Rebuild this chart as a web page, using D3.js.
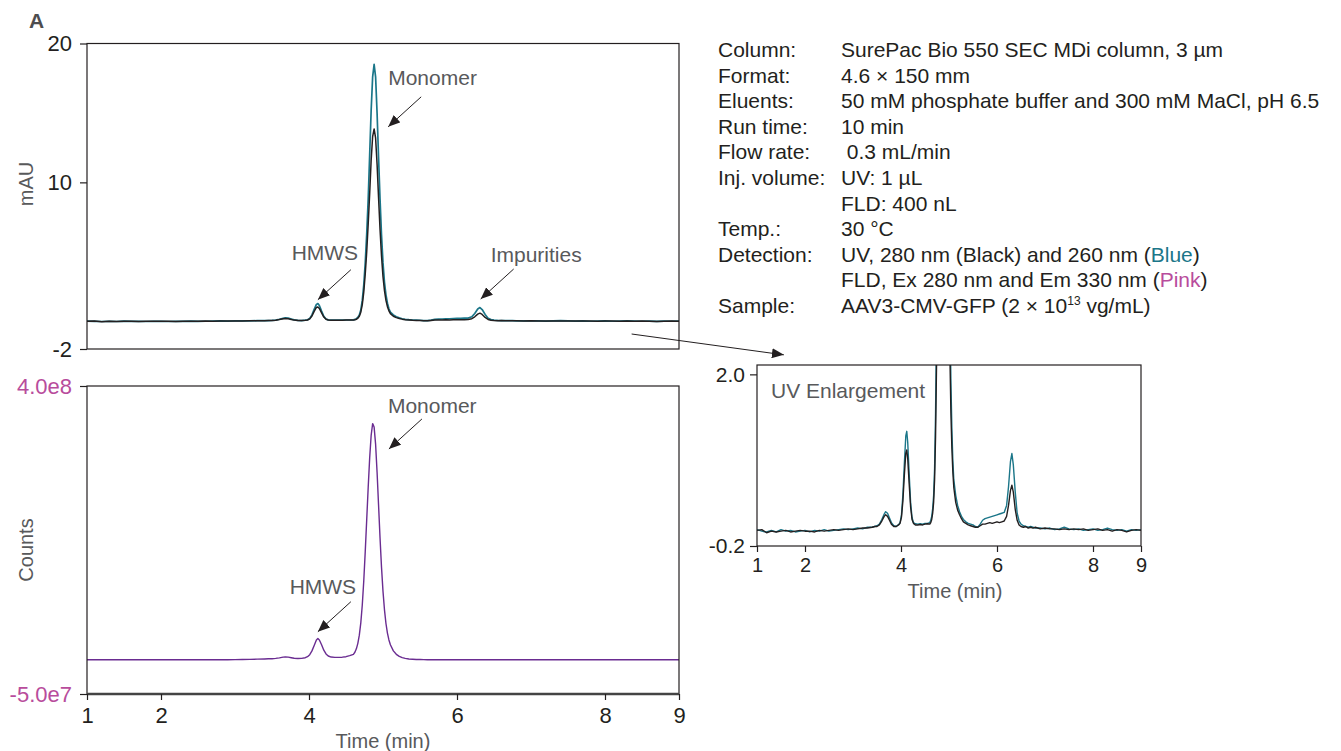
<!DOCTYPE html>
<html>
<head>
<meta charset="utf-8">
<script src="https://cdn.jsdelivr.net/npm/d3@7"></script>
<style>
  body { margin: 0; background: #fff; }
  svg { font-family: "Liberation Sans", Arial, Helvetica, sans-serif; }
</style>
</head>
<body>
<svg id="chart" width="1341" height="751"></svg>
<script>
// retention time (min)
var timeMin = [
  1.0,1.1,1.2,1.3,1.4,1.5,1.6,1.7,1.8,1.9,2.0,2.1,2.2,2.3,2.4,2.5,2.6,2.7,2.8,2.9,3.0,3.1,3.2,3.3,3.4,
  3.45,3.5,3.55,3.6,3.65,3.68,3.72,3.76,3.8,3.85,3.9,
  3.95,3.98,4.01,4.04,4.07,4.1,4.12,4.14,4.17,4.2,4.23,4.26,4.3,4.35,4.4,4.45,4.5,4.55,
  4.6,4.62,4.64,4.66,4.68,4.7,4.72,4.74,4.76,4.78,4.8,4.82,4.84,4.86,4.88,4.9,4.92,4.94,4.96,4.98,5.0,5.02,5.04,5.06,5.08,5.1,
  5.14,5.18,5.22,5.26,5.3,
  5.35,5.4,5.45,5.5,5.55,5.6,5.65,5.7,5.75,5.8,5.85,5.9,5.95,6.0,6.05,6.1,6.15,
  6.2,6.24,6.28,6.31,6.34,6.38,6.42,6.46,6.5,6.55,6.6,6.65,6.7,6.75,6.8,
  6.9,7.0,7.1,7.2,7.3,7.4,7.5,7.6,7.7,7.8,7.9,8.0,8.1,8.2,8.3,8.4,8.5,8.6,8.7,8.8,8.9,9.0
];

// UV 260 nm (blue), mAU
var uv260 = [
  0.01,-0.01,-0.02,0.0,-0.02,0.01,-0.01,0.0,-0.02,-0.01,0.0,-0.02,0.0,-0.01,0.01,-0.01,0.0,0.01,0.02,0.01,0.02,0.03,0.02,0.04,0.04,
  0.05,0.06,0.08,0.14,0.21,0.24,0.22,0.16,0.1,0.06,0.05,
  0.075,0.1,0.2,0.46,0.86,1.21,1.27,1.13,0.73,0.36,0.165,0.1,0.085,0.08,0.085,0.08,0.09,0.09,
  0.1,0.13,0.18,0.28,0.45,0.8,1.5,2.6,4.2,6.3,8.8,12.0,15.2,17.6,18.5,17.6,15.0,11.8,8.8,6.2,4.2,2.8,1.9,1.3,0.9,0.65,
  0.45,0.32,0.24,0.18,0.14,
  0.11,0.09,0.08,0.07,0.05,0.04,0.08,0.13,0.15,0.16,0.17,0.18,0.19,0.2,0.21,0.22,0.23,
  0.32,0.56,0.88,0.985,0.84,0.49,0.22,0.12,0.08,0.06,0.05,0.04,0.05,0.04,0.03,
  0.03,0.02,0.03,0.01,0.02,0.04,0.02,0.01,0.02,0.0,0.01,0.02,0.0,0.01,0.03,0.01,0.0,0.01,-0.01,0.01,0.0,0.01
];

// UV 280 nm (black), mAU
var uv280 = [
  0.0,0.01,-0.03,-0.01,-0.02,-0.01,0.0,-0.02,-0.01,0.0,-0.01,-0.01,-0.02,0.0,-0.01,0.0,0.01,0.0,0.01,0.02,0.01,0.02,0.03,0.03,0.04,
  0.05,0.05,0.07,0.12,0.18,0.2,0.18,0.13,0.08,0.05,0.05,
  0.07,0.09,0.17,0.38,0.71,0.99,1.03,0.92,0.6,0.3,0.14,0.09,0.07,0.07,0.075,0.07,0.08,0.085,
  0.08,0.1,0.14,0.22,0.36,0.65,1.2,2.1,3.4,5.0,7.0,9.2,11.6,13.3,13.85,13.2,11.3,8.9,6.6,4.7,3.2,2.2,1.5,1.05,0.75,0.55,
  0.36,0.26,0.2,0.15,0.11,
  0.09,0.07,0.06,0.05,0.04,0.04,0.06,0.08,0.08,0.09,0.1,0.09,0.1,0.11,0.1,0.11,0.12,
  0.18,0.32,0.51,0.58,0.49,0.27,0.13,0.07,0.05,0.04,0.05,0.03,0.04,0.03,0.04,
  0.02,0.03,0.02,0.02,0.01,0.02,0.01,0.02,0.01,0.02,0.0,0.01,0.02,0.0,0.01,-0.01,0.01,0.0,-0.02,0.0,0.01,0.0
];

// FLD Ex 280 / Em 330, counts in units of 1e7
var fldCounts = [
  0,0,0,0,0,0,0,0,0,0,0,0,0,0,0,0,0,0,0,0,0.02,0.04,0.06,0.09,0.12,
  0.14,0.16,0.2,0.28,0.38,0.42,0.38,0.3,0.22,0.18,0.2,
  0.3,0.45,0.75,1.3,2.1,2.9,3.1,2.9,2.2,1.4,0.85,0.55,0.4,0.35,0.35,0.38,0.45,0.6,
  0.8,1.1,1.6,2.4,3.6,5.4,8.0,11.5,15.8,20.5,25.2,29.5,32.8,34.5,34.0,31.5,27.4,22.6,17.8,13.5,10.0,7.3,5.3,3.9,2.9,2.2,
  1.3,0.8,0.5,0.32,0.2,
  0.12,0.08,0.05,0.03,0.02,0.01,0,0,0,0,0,0,0,0,0,0,0,
  0,0,0,0,0,0,0,0,0,0,0,0,0,0,0,
  0,0,0,0,0,0,0,0,0,0,0,0,0,0,0,0,0,0,0,0,0,0
];

var timeTicks = [1, 2, 4, 6, 8, 9];
var uvTicks = [20, 10, -2];
var uvTickLabels = ["20", "10", "-2"];
var fldTicks = [40, -5];
var fldTickLabels = ["4.0e8", "-5.0e7"];
var insetTicks = [2.0, -0.2];
var insetTickLabels = ["2.0", "-0.2"];

var uvNotes = [
  {text: "Monomer", t: 5.07, v: 14.0, tx: 0, ty: -42, anchor: "start"},
  {text: "HMWS", t: 4.12, v: 1.55, tx: 7, ty: -40, anchor: "middle"},
  {text: "Impurities", t: 6.32, v: 1.6, tx: 10, ty: -37, anchor: "start"}
];
var fldNotes = [
  {text: "Monomer", t: 5.08, v: 30.8, tx: -1, ty: -36, anchor: "start"},
  {text: "HMWS", t: 4.12, v: 4.1, tx: 5, ty: -38, anchor: "middle"}
];

var infoRows = [
  ["Column:", [["SurePac Bio 550 SEC MDi column, 3 µm"]]],
  ["Format:", [["4.6 × 150 mm"]]],
  ["Eluents:", [["50 mM phosphate buffer and 300 mM MaCl, pH 6.5"]]],
  ["Run time:", [["10 min"]]],
  ["Flow rate:", [["\u00a00.3 mL/min"]]],
  ["Inj. volume:", [["UV: 1 µL"]]],
  ["", [["FLD: 400 nL"]]],
  ["Temp.:", [["30 °C"]]],
  ["Detection:", [["UV, 280 nm (Black) and 260 nm ("], ["Blue", "blue"], [")"]]],
  ["", [["FLD, Ex 280 nm and Em 330 nm ("], ["Pink", "pink"], [")"]]],
  ["Sample:", [["AAV3-CMV-GFP (2 × 10"], ["13", "sup"], [" vg/mL)", "unsup"]]]
];

var ink = "#231f20", grey = "#58595b", blue = "#1b7689", pink = "#b84c9c", purple = "#6a2c91";

var svg = d3.select("#chart");
var defs = svg.append("defs");
defs.append("marker").attr("id", "arrow")
  .attr("viewBox", "0 0 12 10").attr("refX", 12).attr("refY", 5)
  .attr("markerWidth", 12).attr("markerHeight", 10)
  .attr("markerUnits", "userSpaceOnUse").attr("orient", "auto")
  .append("path").attr("d", "M0,0L12,5L0,10Z").attr("fill", ink);

var idx = d3.range(timeMin.length);

function panel(id, x, y, series) {
  var r = {x0: x.range()[0], x1: x.range()[1], y0: y.range()[1], y1: y.range()[0]};
  defs.append("clipPath").attr("id", id).append("rect")
    .attr("x", r.x0).attr("y", r.y0).attr("width", r.x1 - r.x0).attr("height", r.y1 - r.y0);
  var g = svg.append("g").attr("clip-path", "url(#" + id + ")");
  series.forEach(function(s) {
    var line = d3.line().x(function(i) { return x(timeMin[i]); }).y(function(i) { return y(s.values[i]); });
    g.append("path").attr("d", line(idx)).attr("fill", "none")
      .attr("stroke", s.color).attr("stroke-width", s.width || 1.4).attr("stroke-linejoin", "round");
  });
  svg.append("rect").attr("x", r.x0).attr("y", r.y0).attr("width", r.x1 - r.x0).attr("height", r.y1 - r.y0)
    .attr("fill", "none").attr("stroke", ink).attr("stroke-width", 1.2);
  return r;
}

function styleAxis(g, size, color) {
  g.select(".domain").remove();
  g.selectAll(".tick line").attr("stroke", ink).attr("stroke-width", 1.2);
  g.selectAll(".tick text").attr("font-size", size).attr("fill", color || ink).attr("font-family", null);
}

function labelsFrom(labels) {
  return function(d, i) { return labels[i]; };
}

function notes(list, x, y) {
  list.forEach(function(n) {
    var px = x(n.t), py = y(n.v);
    svg.append("line").attr("x1", px + 33).attr("y1", py - 30).attr("x2", px).attr("y2", py)
      .attr("stroke", ink).attr("stroke-width", 1).attr("marker-end", "url(#arrow)");
    svg.append("text").attr("x", px + n.tx).attr("y", py + n.ty).attr("text-anchor", n.anchor)
      .attr("font-size", 21).attr("fill", grey).text(n.text);
  });
}

// ---- top panel: UV ----
var xTop = d3.scaleLinear().domain([1, 9]).range([87, 679]);
var yTop = d3.scaleLinear().domain([-2, 20]).range([349, 43.5]);
panel("clipTop", xTop, yTop, [{values: uv260, color: blue, width: 1.7}, {values: uv280, color: ink, width: 1.5}]);
svg.append("g").attr("transform", "translate(87,0)")
  .call(d3.axisLeft(yTop).tickValues(uvTicks).tickSize(7).tickPadding(8).tickFormat(labelsFrom(uvTickLabels)))
  .call(styleAxis, 22);
svg.append("text").attr("transform", "translate(33,184) rotate(-90)").attr("text-anchor", "middle")
  .attr("font-size", 20).attr("fill", grey).text("mAU");
notes(uvNotes, xTop, yTop);

// ---- bottom panel: FLD ----
var xBot = d3.scaleLinear().domain([1, 9]).range([87, 679]);
var yBot = d3.scaleLinear().domain([-5, 40]).range([694, 386]);
panel("clipBot", xBot, yBot, [{values: fldCounts, color: purple, width: 1.4}]);
svg.append("line").attr("x1", 87).attr("x2", 679).attr("y1", 694).attr("y2", 694)
  .attr("stroke", "#444").attr("stroke-width", 2.4);
svg.append("g").attr("transform", "translate(87,0)")
  .call(d3.axisLeft(yBot).tickValues(fldTicks).tickSize(7).tickPadding(8).tickFormat(labelsFrom(fldTickLabels)))
  .call(styleAxis, 22, pink);
svg.append("g").attr("transform", "translate(0,694)")
  .call(d3.axisBottom(xBot).tickValues(timeTicks).tickSize(6).tickPadding(7).tickFormat(d3.format("d")))
  .call(styleAxis, 22);
svg.append("text").attr("x", 383).attr("y", 748).attr("text-anchor", "middle")
  .attr("font-size", 20).attr("fill", grey).text("Time (min)");
svg.append("text").attr("transform", "translate(33,550) rotate(-90)").attr("text-anchor", "middle")
  .attr("font-size", 20).attr("fill", grey).text("Counts");
notes(fldNotes, xBot, yBot);

// ---- inset: UV enlargement ----
var xIn = d3.scaleLinear().domain([1, 9]).range([757, 1141]);
var yIn = d3.scaleLinear().domain([-0.2, 2.12]).range([546, 365]);
panel("clipIn", xIn, yIn, [{values: uv260, color: blue, width: 1.4}, {values: uv280, color: ink, width: 1.4}]);
svg.append("g").attr("transform", "translate(757,0)")
  .call(d3.axisLeft(yIn).tickValues(insetTicks).tickSize(7).tickPadding(5).tickFormat(labelsFrom(insetTickLabels)))
  .call(styleAxis, 21);
svg.append("g").attr("transform", "translate(0,546)")
  .call(d3.axisBottom(xIn).tickValues(timeTicks).tickSize(6).tickPadding(6).tickFormat(d3.format("d")))
  .call(styleAxis, 20);
svg.append("text").attr("x", 955).attr("y", 598).attr("text-anchor", "middle")
  .attr("font-size", 20).attr("fill", grey).text("Time (min)");
svg.append("text").attr("x", 771).attr("y", 398).attr("font-size", 21).attr("fill", grey).text("UV Enlargement");

// connector from the top panel to the inset
svg.append("line")
  .attr("x1", xTop(8.36)).attr("y1", yTop(-0.92))
  .attr("x2", xIn(1.56)).attr("y2", yIn(2.25))
  .attr("stroke", ink).attr("stroke-width", 1).attr("marker-end", "url(#arrow)");

// panel letter
svg.append("text").attr("x", 29).attr("y", 28).attr("font-size", 21).attr("font-weight", "bold")
  .attr("fill", "#4d4d4f").text("A");

// ---- method details ----
var info = svg.append("g").attr("font-size", 21).attr("fill", ink);
infoRows.forEach(function(row, i) {
  var yy = 57 + i * 25.6;
  info.append("text").attr("x", 718).attr("y", yy).text(row[0]);
  var t = info.append("text").attr("x", 841).attr("y", yy);
  row[1].forEach(function(part) {
    var sp = t.append("tspan").text(part[0]);
    if (part[1] === "blue") sp.attr("fill", blue);
    if (part[1] === "pink") sp.attr("fill", pink);
    if (part[1] === "sup") sp.attr("font-size", 12).attr("dy", -8);
    if (part[1] === "unsup") sp.attr("dy", 8);
  });
});
</script>
</body>
</html>
